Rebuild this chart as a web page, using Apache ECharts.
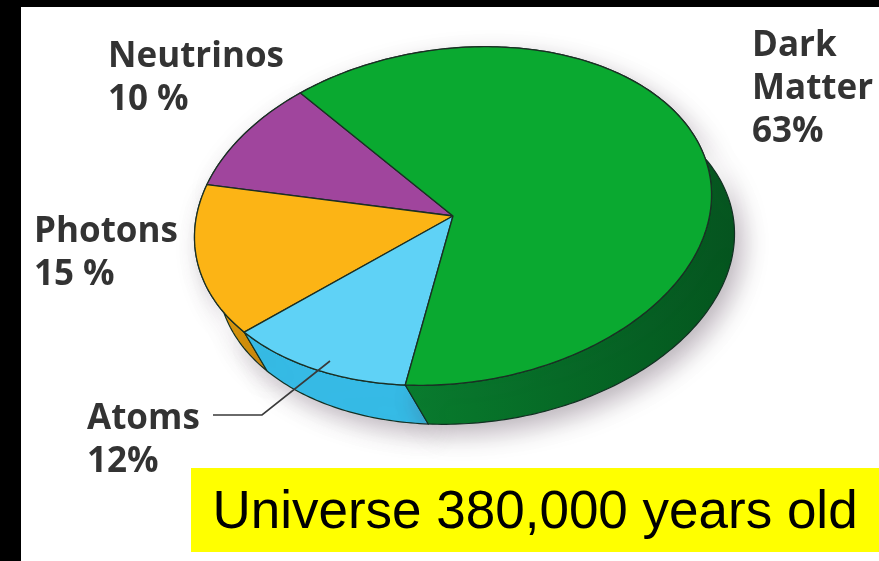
<!DOCTYPE html>
<html>
<head>
<meta charset="utf-8">
<script src="https://cdn.jsdelivr.net/npm/echarts@6/dist/echarts.min.js"></script>
<style>
  html, body { margin: 0; padding: 0; background: #000; }
  #chart { width: 879px; height: 561px; }
</style>
</head>
<body>
<div id="chart"></div>
<script>
// Composition of the universe, 380,000 years after the Big Bang
const categories = ['Neutrinos', 'Photons', 'Atoms', 'Dark Matter'];
const values = [10, 15, 12, 63];
// how each percentage is written in its label
const percentSuffix = [' %', ' %', '%', '%'];
const caption = 'Universe 380,000 years old';

// colours: top face, side wall
const topColors = ['#a0459d', '#fcb415', '#5fd2f6', '#0aa930'];
const sideColors = ['#7c2f7a', '#d9950c', '#36bde8', '#07702b'];

// elliptical "3D" pie layout
const PIE = {
  cx: 453, cy: 216,      // centre of the top face
  rx: 260, ry: 167,      // semi-axes of the top face
  tilt: 8,               // rotation of the ellipse, degrees (right side up)
  depthX: 23, depthY: 39,// offset of the bottom rim
  startAngle: 121        // where the first slice starts, degrees (counter-clockwise)
};

const total = values.reduce((s, v) => s + v, 0);
const cosT = Math.cos(PIE.tilt * Math.PI / 180);
const sinT = Math.sin(PIE.tilt * Math.PI / 180);

function rimPoint(deg, ox, oy) {
  const t = deg * Math.PI / 180;
  const ex = PIE.rx * Math.cos(t), ey = PIE.ry * Math.sin(t);
  return [PIE.cx + ex * cosT - ey * sinT + ox, PIE.cy - (ex * sinT + ey * cosT) + oy];
}

function sliceAngles(idx) {
  let acc = 0;
  for (let i = 0; i < idx; i++) acc += values[i];
  const a0 = PIE.startAngle + acc / total * 360;
  const a1 = a0 + values[idx] / total * 360;
  return [a0, a1];
}

function arc(a0, a1, ox, oy) {
  const pts = [];
  const n = Math.max(2, Math.ceil(Math.abs(a1 - a0)));
  for (let i = 0; i <= n; i++) pts.push(rimPoint(a0 + (a1 - a0) * i / n, ox, oy));
  return pts;
}

const seriesData = categories.map((c, i) => ({ name: c, value: values[i] }));

function renderSide(params, api) {
  const i = params.dataIndex;
  const [a0, a1] = sliceAngles(i);
  const upper = arc(a0, a1, 0, 0);
  const lower = arc(a1, a0, PIE.depthX, PIE.depthY);
  const fill = i === 3
    ? new echarts.graphic.LinearGradient(0, 0, 1, 0, [
        { offset: 0, color: '#0a8a33' }, { offset: 1, color: '#05561f' }])
    : sideColors[i];
  return {
    type: 'polygon',
    shape: { points: upper.concat(lower) },
    style: {
      fill: fill, stroke: '#123022', lineWidth: 1.2,
      shadowBlur: 24, shadowColor: 'rgba(70,50,70,0.35)', shadowOffsetX: 8, shadowOffsetY: 10
    }
  };
}

function renderTop(params, api) {
  const i = params.dataIndex;
  const [a0, a1] = sliceAngles(i);
  const pts = [[PIE.cx, PIE.cy]].concat(arc(a0, a1, 0, 0));
  return {
    type: 'polygon',
    shape: { points: pts },
    style: { fill: topColors[i], stroke: '#1b2f24', lineWidth: 1.3, lineJoin: 'round' }
  };
}

// label blocks: name lines plus the value line
const labelFont = { fontFamily: 'Open Sans', fontWeight: 'bold', fontSize: 35, fill: '#333333' };
const labelPos = [
  { x: 108, y: 36 },   // Neutrinos
  { x: 34, y: 211 },   // Photons
  { x: 87, y: 398 },   // Atoms
  { x: 752, y: 25 }    // Dark Matter
];
const labelLines = [['Neutrinos'], ['Photons'], ['Atoms'], ['Dark', 'Matter']];

const labelGraphics = categories.map((c, i) => ({
  type: 'text',
  x: labelPos[i].x, y: labelPos[i].y,
  z: 10,
  style: Object.assign({
    text: labelLines[i].concat([values[i] + percentSuffix[i]]).join('\n'),
    lineHeight: 43, textAlign: 'left', textVerticalAlign: 'top'
  }, labelFont)
}));

const chart = echarts.init(document.getElementById('chart'), null, { renderer: 'canvas' });
chart.setOption({
  backgroundColor: '#000',
  animation: false,
  graphic: [
    // white page inside the black frame
    { type: 'rect', shape: { x: 21, y: 7, width: 858, height: 554 }, style: { fill: '#fff' }, z: -10 },
    // leader line for the Atoms label
    { type: 'polyline', z: 10, shape: { points: [[213, 415], [262, 415], [330, 361]] },
      style: { stroke: '#3a3a3a', lineWidth: 1.6, fill: null } },
    // caption box
    { type: 'rect', z: 10, shape: { x: 191, y: 468, width: 688, height: 84 }, style: { fill: '#ffff00' } },
    { type: 'text', z: 11, x: 535, y: 513,
      style: { text: caption, fontFamily: 'Liberation Sans', fontSize: 53, fill: '#000',
               textAlign: 'center', textVerticalAlign: 'middle' } }
  ].concat(labelGraphics),
  series: [
    { type: 'custom', coordinateSystem: 'none', z: 1, data: seriesData, renderItem: renderSide },
    { type: 'custom', coordinateSystem: 'none', z: 2, data: seriesData, renderItem: renderTop }
  ]
});
</script>
</body>
</html>
